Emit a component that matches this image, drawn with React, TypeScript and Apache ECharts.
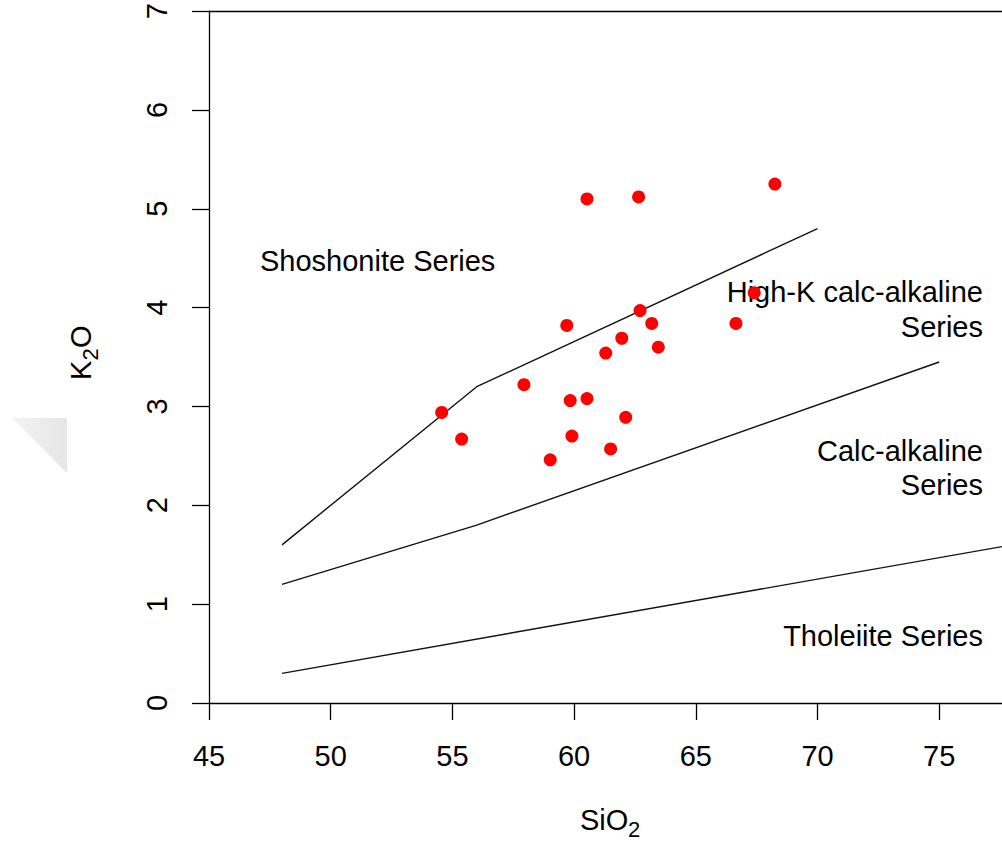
import React, { useEffect, useRef } from "react";
import * as echarts from "echarts";

// Sample data: SiO2 (wt%) vs K2O (wt%)
const sio2 = [62.71, 63.19, 59.7, 61.96, 63.46, 61.3, 57.94, 54.56, 59.84, 60.53, 62.12, 55.38, 59.91, 61.5, 59.02, 60.53, 62.65, 68.25, 67.4, 66.65];
const k2o = [3.97, 3.84, 3.82, 3.69, 3.6, 3.54, 3.22, 2.94, 3.06, 3.08, 2.89, 2.67, 2.7, 2.57, 2.46, 5.1, 5.12, 5.25, 4.15, 3.84];

// Peccerillo & Taylor boundary lines
const shoshoniteX = [48, 56, 70];
const shoshoniteY = [1.6, 3.2, 4.8];
const highKX = [48, 56, 75];
const highKY = [1.2, 1.8, 3.45];
const tholeiiteX = [48, 78];
const tholeiiteY = [0.3, 1.6];

const xTicks = [45, 50, 55, 60, 65, 70, 75];
const yTicks = [0, 1, 2, 3, 4, 5, 6, 7];

const FONT = "'Liberation Sans', Arial, sans-serif";
const FS = 29;

function pairs(xs: number[], ys: number[]) {
  return xs.map((x, i) => [x, ys[i]]);
}

export default function App() {
  const ref = useRef<HTMLDivElement>(null);
  useEffect(() => {
    if (!ref.current) return;
    const chart = echarts.init(ref.current, null, { renderer: "svg" });
    const lineStyle = { color: "#111", width: 1.4 };
    const boundary = (xs: number[], ys: number[]) => ({
      type: "line",
      data: pairs(xs, ys),
      showSymbol: false,
      symbol: "none",
      silent: true,
      lineStyle,
      z: 2,
    });
    const txt = (text: string, x: number, y: number, align: string, fontSize = FS) => ({
      type: "text",
      x,
      y,
      silent: true,
      style: {
        text,
        fill: "#000",
        font: `${fontSize}px ${FONT}`,
        textAlign: align,
        textVerticalAlign: "middle",
      },
    });
    chart.setOption({
      animation: false,
      textStyle: { fontFamily: FONT },
      grid: { left: 209, top: 11, right: 0, bottom: 145, containLabel: false },
      xAxis: [
        {
          type: "value",
          min: 45,
          max: 77.58,
          interval: 5,
          position: "bottom",
          axisLine: { show: true, onZero: false, lineStyle: { color: "#000", width: 1.3 } },
          axisTick: { show: true, length: 17, inside: false, customValues: xTicks, lineStyle: { color: "#000", width: 1.3 } },
          axisLabel: { customValues: xTicks, fontSize: FS, color: "#000", margin: 38, fontFamily: FONT },
          splitLine: { show: false },
        },
        {
          type: "value",
          min: 45,
          max: 77.58,
          position: "top",
          axisLine: { show: true, onZero: false, lineStyle: { color: "#000", width: 1.3 } },
          axisTick: { show: false },
          axisLabel: { show: false },
          splitLine: { show: false },
        },
      ],
      yAxis: {
        type: "value",
        min: 0,
        max: 7,
        interval: 1,
        axisLine: { show: true, onZero: false, lineStyle: { color: "#000", width: 1.3 } },
        axisTick: { show: true, length: 17, lineStyle: { color: "#000", width: 1.3 } },
        axisLabel: { fontSize: FS, color: "#000", margin: 38, rotate: 90, fontFamily: FONT, customValues: yTicks },
        splitLine: { show: false },
      },
      series: [
        boundary(shoshoniteX, shoshoniteY),
        boundary(highKX, highKY),
        boundary(tholeiiteX, tholeiiteY),
        {
          type: "scatter",
          data: pairs(sio2, k2o),
          symbol: "circle",
          symbolSize: 13,
          itemStyle: { color: "#ff0000", opacity: 1 },
          z: 3,
        },
      ],
      graphic: [
        {
          type: "polygon",
          silent: true,
          shape: { points: [[12, 418], [67, 418], [67, 473]] },
          style: {
            fill: new echarts.graphic.LinearGradient(0, 0, 1, 0, [
              { offset: 0, color: "#f3f3f3" },
              { offset: 1, color: "#e6e6e6" },
            ]),
          },
        },
        txt("Shoshonite Series", 260, 261, "left"),
        txt("High-K calc-alkaline", 983, 292, "right"),
        txt("Series", 983, 327, "right"),
        txt("Calc-alkaline", 983, 451, "right"),
        txt("Series", 983, 485, "right"),
        txt("Tholeiite Series", 983, 636, "right"),
        // x-axis title SiO2
        txt("SiO", 580, 820, "left"),
        txt("2", 628, 829, "left", 22),
        // y-axis title K2O (rotated)
        {
          type: "group",
          x: 81,
          y: 380,
          rotation: Math.PI / 2,
          children: [
            txt("K", 0, 0, "left"),
            txt("2", 19.5, 9, "left", 22),
            txt("O", 32, 0, "left"),
          ],
        },
      ],
    });
    return () => chart.dispose();
  }, []);
  return (
    <div
      ref={ref}
      style={{ position: "absolute", left: 0, top: 0, width: 1002, height: 848, background: "#fff" }}
    />
  );
}
